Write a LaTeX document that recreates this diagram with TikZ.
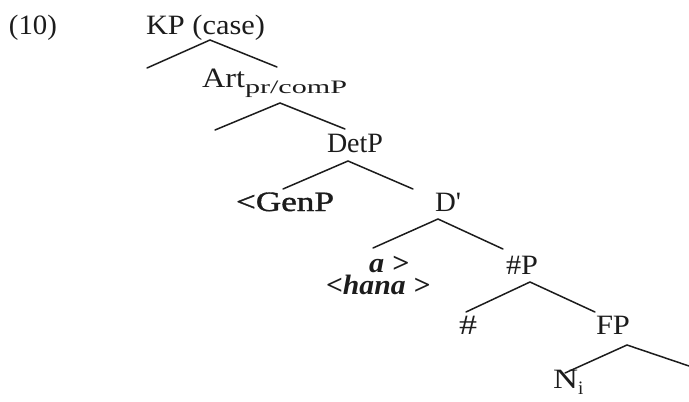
\documentclass[tikz,border=0pt]{standalone}
\usepackage{fontspec}
\setmainfont{Liberation Serif}
\definecolor{ink}{HTML}{1C1C1C}
% set a label at a given overall width, keeping its height
\newcommand\fitw[2]{\resizebox{#1}{\height}{#2}}
\newcommand\subtxt[2]{\raisebox{#1}{\fontsize{19}{21}\selectfont #2}}
\begin{document}
\begin{tikzpicture}[x=1pt,y=-1pt,
  lbl/.style={anchor=base west, inner sep=0pt, outer sep=0pt,
    font=\fontsize{28}{32}\selectfont, text=ink},
  branch/.style={draw=ink, line width=1.5pt, line cap=round}]
\useasboundingbox (0,0) rectangle (689,402);

% labels of the tree
\node[lbl] (ex)   at (9,34)    {\fitw{48pt}{(10)}};
\node[lbl] (kp)   at (146,34)  {\fitw{119pt}{KP (case)}};
\node[lbl] (art)  at (202,87)  {\fitw{43pt}{Art}\fitw{102pt}{\subtxt{-6pt}{pr/comP}}};
\node[lbl] (detp) at (327,152) {\fitw{56pt}{DetP}};
\node[lbl] (genp) at (236,211) {\fitw{98pt}{\addfontfeatures{FakeBold=1.2}<GenP}};
\node[lbl] (dbar) at (435,211) {\fitw{26pt}{\addfontfeatures{Ligatures=TeXOff}D'}};
\node[lbl] (a)    at (369,272) {\fitw{40pt}{\bfseries\itshape a >}};
\node[lbl] (hana) at (326,294) {\fitw{104pt}{\bfseries\itshape <hana >}};
\node[lbl] (nump) at (506,274) {\fitw{32pt}{\#P}};
\node[lbl] (num)  at (459,334) {\fitw{18pt}{\#}};
\node[lbl] (fp)   at (596,334) {\fitw{34pt}{FP}};
\node[lbl] (ni)   at (553,388) {\fitw{25pt}{N}\subtxt{-6pt}{i}};

% branching points
\coordinate (kpT) at (210,40);  \coordinate (kpL) at (147,68);  \coordinate (kpR) at (277,67);
\coordinate (arT) at (280,103); \coordinate (arL) at (215,130); \coordinate (arR) at (345,129);
\coordinate (dtT) at (348,161); \coordinate (dtL) at (283,189); \coordinate (dtR) at (413,189);
\coordinate (dbT) at (438,219); \coordinate (dbL) at (373,248); \coordinate (dbR) at (503,249);
\coordinate (npT) at (530,282); \coordinate (npL) at (466,312); \coordinate (npR) at (595,312);
\coordinate (fpT) at (627,345); \coordinate (fpL) at (565,373); \coordinate (fpR) at (689,366);

% branches
\foreach \t/\l/\r in {kpT/kpL/kpR, arT/arL/arR, dtT/dtL/dtR, dbT/dbL/dbR, npT/npL/npR, fpT/fpL/fpR}
  \draw[branch] (\l) -- (\t) -- (\r);
\end{tikzpicture}
\end{document}
